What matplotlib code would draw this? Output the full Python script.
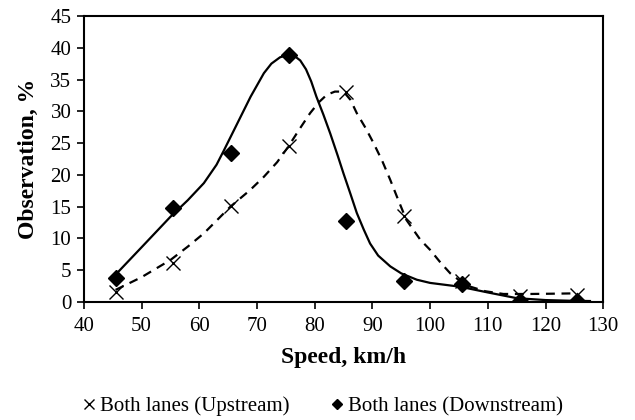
import matplotlib
matplotlib.use("Agg")
import matplotlib.pyplot as plt

plt.rcParams['font.family'] = ['Liberation Serif', 'DejaVu Serif']

# observed points
speed = [45.5, 55.5, 65.5, 75.5, 85.5, 95.5, 105.5, 115.5, 125.5]
upstream = [1.6, 6.2, 15.1, 24.6, 33.1, 13.5, 3.3, 1.0, 1.1]
downstream = [3.8, 14.8, 23.5, 38.8, 12.8, 3.3, 2.8, 0.1, 0.1]

# fitted curves
down_fit_x = [45.5, 50, 55, 58, 60.8, 63, 64.3, 66.6, 68.9, 71.2, 72.5, 74, 75.4, 76.5, 77.5,
              78.5, 79.4, 80.3, 81.5, 82.7, 84, 85.0, 86.2, 87.3, 88.5, 89.6, 91, 93.1, 95,
              97.7, 100, 105.2, 110, 115, 120, 124, 127.7]
down_fit_y = [4.3, 8.6, 13.4, 16.0, 18.7, 21.6, 23.9, 28.1, 32.3, 36.0, 37.5, 38.5, 38.9, 38.7, 38.0,
              36.6, 34.7, 32.3, 29.5, 26.5, 23.0, 20.2, 17.0, 14.0, 11.4, 9.2, 7.3, 5.6, 4.5,
              3.5, 3.0, 2.4, 1.5, 0.6, 0.3, 0.2, 0.15]

up_fit_x = [45.5, 50, 55, 58, 60.8, 63, 65.4, 68.8, 71.2, 73.5, 75.4, 77.3, 79.2, 80.7,
            82.1, 83.5, 85.0, 86.2, 87.3, 88.8, 90.2, 91.7, 93.1, 94.5, 95.9, 98.3, 100,
            101.8, 103.5, 105.2, 107, 109.5, 112.7, 117.3, 121, 125.5]
up_fit_y = [1.9, 3.9, 6.6, 8.7, 10.8, 12.8, 15.0, 17.6, 19.7, 22.0, 24.4, 27.1, 29.7, 31.4,
            32.6, 33.1, 33.1, 31.8, 29.7, 27.4, 25.0, 22.2, 19.2, 16.0, 12.9, 9.8, 8.2,
            6.2, 4.5, 3.3, 2.4, 1.7, 1.26, 1.26, 1.3, 1.36]

fig = plt.figure(figsize=(6.35, 4.2), dpi=100)
ax = fig.add_axes([0.132, 0.281, 0.818, 0.681])

ax.plot(down_fit_x, down_fit_y, color='black', lw=1.6, solid_joinstyle='round')
ax.plot(up_fit_x, up_fit_y, color='black', lw=1.6, ls=(0, (4, 3)))

ax.plot(speed, upstream, ls='none', marker='x', ms=10, mew=1.0,
        color='black', label='Both lanes (Upstream)')
ax.plot(speed, downstream, ls='none', marker='D', ms=8, color='black',
        label='Both lanes (Downstream)')

ax.set_xlim(40, 130)
ax.set_ylim(0, 45)
ax.set_xticks(range(40, 131, 10))
ax.set_yticks(range(0, 46, 5))
ax.tick_params(direction='out', length=5, width=1.2, labelsize=15)
ax.tick_params(axis='x', pad=6)
ax.tick_params(axis='y', pad=4)
for s in ax.spines.values():
    s.set_linewidth(1.5)

ax.set_xlabel('Speed, km/h', fontsize=17, fontweight='bold', labelpad=8)
ax.set_ylabel('Observation, %', fontsize=17, fontweight='bold', labelpad=8)

fig.legend(loc='center', bbox_to_anchor=(0.505, 0.032), ncol=2, frameon=False,
           fontsize=15, handletextpad=0.0, columnspacing=1.8, markerscale=0.7,
           handlelength=1.0)

plt.savefig('out.png', dpi=100)
